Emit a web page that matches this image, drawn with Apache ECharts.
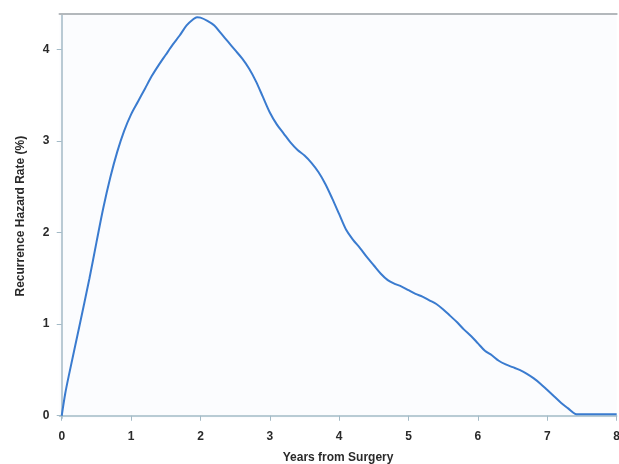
<!DOCTYPE html>
<html>
<head>
<meta charset="utf-8">
<script src="https://cdn.jsdelivr.net/npm/echarts@6/dist/echarts.min.js"></script>
<style>
  html, body { margin: 0; padding: 0; background: #fff; }
  #chart { width: 619px; height: 464px; }
</style>
</head>
<body>
<div id="chart"></div>
<script>
// years since surgery and hazard rate (%)
const years = [0, 0.05, 0.1, 0.25, 0.4, 0.5, 0.6, 0.7, 0.8, 0.9, 1.0, 1.1, 1.2, 1.3, 1.4, 1.5, 1.6, 1.7, 1.8, 1.9, 1.95, 2.0,
  2.1, 2.2, 2.3, 2.4, 2.5, 2.6, 2.7, 2.8, 2.9, 3.0, 3.1, 3.2, 3.3, 3.4, 3.5, 3.6, 3.7, 3.8, 3.9, 4.0,
  4.1, 4.2, 4.3, 4.4, 4.5, 4.6, 4.7, 4.8, 4.9, 5.0, 5.1, 5.2, 5.3, 5.4, 5.5, 5.6, 5.7, 5.8, 5.9, 6.0,
  6.1, 6.2, 6.3, 6.4, 6.5, 6.6, 6.7, 6.8, 6.9, 7.0, 7.1, 7.2, 7.3, 7.4, 7.45, 8.0];
const hazard = [0, 0.24, 0.43, 0.96, 1.5, 1.89, 2.27, 2.6, 2.88, 3.11, 3.29, 3.43, 3.57, 3.71, 3.83, 3.94, 4.05, 4.15, 4.26, 4.33, 4.35, 4.345,
  4.31, 4.26, 4.17, 4.08, 3.99, 3.9, 3.79, 3.65, 3.48, 3.31, 3.18, 3.08, 2.98, 2.9, 2.84, 2.76, 2.66, 2.53, 2.37, 2.2,
  2.03, 1.92, 1.83, 1.73, 1.64, 1.55, 1.48, 1.44, 1.41, 1.37, 1.33, 1.3, 1.26, 1.22, 1.16, 1.09, 1.02, 0.94, 0.87, 0.79,
  0.71, 0.66, 0.6, 0.56, 0.53, 0.5, 0.46, 0.41, 0.35, 0.28, 0.21, 0.14, 0.08, 0.02, 0.015, 0.015];
const xTicks = [0, 1, 2, 3, 4, 5, 6, 7, 8];
const yTicks = [0, 1, 2, 3, 4];

const chart = echarts.init(document.getElementById('chart'));
const axisCol = '#a3bac6';
const labelStyle = { color: '#2a2a2a', fontFamily: 'Liberation Sans, Arial', fontSize: 12, fontWeight: 'bold' };

chart.setOption({
  animation: false,
  grid: {
    left: 59.5, right: 2.3, top: 14, bottom: 45.7,
    outerBoundsMode: 'none',
    show: true, backgroundColor: '#fbfcfe', borderWidth: 0
  },
  xAxis: [{
    type: 'value', min: -0.032, max: 8.0,
    name: 'Years from Surgery', nameLocation: 'middle', nameGap: 33,
    nameTextStyle: labelStyle,
    axisLine: { show: true, lineStyle: { color: axisCol, width: 1.5 } },
    axisTick: { show: true, length: 5, customValues: xTicks, lineStyle: { color: axisCol } },
    axisLabel: { customValues: xTicks, margin: 12, ...labelStyle },
    splitLine: { show: false }
  }, {
    type: 'value', position: 'top', min: -0.032, max: 8.0,
    axisLine: { show: true, lineStyle: { color: '#b3b8bc', width: 2 } },
    axisTick: { show: false }, axisLabel: { show: false }, splitLine: { show: false }
  }],
  yAxis: {
    type: 'value', min: -0.028, max: 4.385,
    name: 'Recurrence Hazard Rate (%)', nameLocation: 'middle', nameGap: 33,
    nameTextStyle: labelStyle,
    axisLine: { show: true, lineStyle: { color: axisCol, width: 1.5 } },
    axisTick: { show: true, length: 5, customValues: yTicks, lineStyle: { color: axisCol } },
    axisLabel: { customValues: yTicks, margin: 10, ...labelStyle },
    splitLine: { show: false }
  },
  series: [{
    type: 'line',
    data: years.map((x, i) => [x, hazard[i]]),
    smooth: 0.3,
    showSymbol: false,
    lineStyle: { color: '#3a7bcf', width: 2 }
  }]
});
</script>
</body>
</html>
